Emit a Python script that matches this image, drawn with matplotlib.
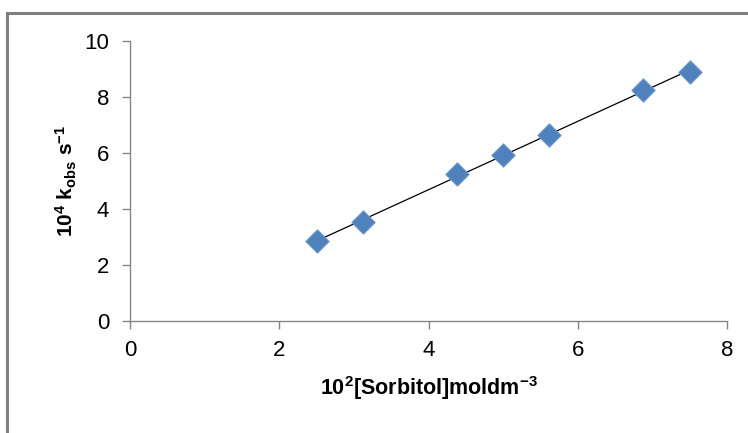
import numpy as np
import matplotlib
matplotlib.use("Agg")
import matplotlib.pyplot as plt
from matplotlib.patches import Rectangle

sorbitol = [2.5, 3.12, 4.38, 5.0, 5.62, 6.88, 7.5]
kobs = [2.85, 3.55, 5.25, 5.92, 6.65, 8.25, 8.9]
xticks = [0, 2, 4, 6, 8]
yticks = [0, 2, 4, 6, 8, 10]

plt.rcParams['font.family'] = ['Liberation Sans', 'DejaVu Sans']
plt.rcParams['mathtext.default'] = 'regular'

fig = plt.figure(figsize=(7.48, 4.33), dpi=100)
fig.patches.append(Rectangle((7/748, -0.1), 1.2, 1 - 13/433 + 0.1, transform=fig.transFigure,
                             fill=False, edgecolor='#808080', linewidth=2.2))
ax = fig.add_axes([130/748, 1 - 321/433, (727-130)/748, (321-41)/433])

coef = np.polyfit(sorbitol, kobs, 1)
xl = np.array([min(sorbitol), max(sorbitol)])
ax.plot(xl, np.polyval(coef, xl), color='black', linewidth=0.9, zorder=2)
ax.scatter(sorbitol, kobs, marker='D', s=140, color='#4F81BD', edgecolors='#6A96CC', linewidths=0.8, zorder=3)

ax.set_xlim(0, 8)
ax.set_ylim(0, 10)
ax.set_xticks(xticks)
ax.set_yticks(yticks)
for s in ['top', 'right']:
    ax.spines[s].set_visible(False)
for s in ['left', 'bottom']:
    ax.spines[s].set_color('#868686')
    ax.spines[s].set_linewidth(1.0)
ax.tick_params(axis='both', direction='out', color='#868686', length=6, width=1,
               labelsize=16, labelcolor='black')
ax.tick_params(axis='x', pad=8)
ax.tick_params(axis='y', pad=9)

ax.set_xlabel(r'10$^{2}$[Sorbitol]moldm$^{-3}$', fontsize=15.5, fontweight='bold', labelpad=9)
ax.set_ylabel(r'10$^{4}$ k$_{obs}$ s$^{-1}$', fontsize=15, fontweight='bold', labelpad=4)

fig.savefig('out.png', dpi=100)
